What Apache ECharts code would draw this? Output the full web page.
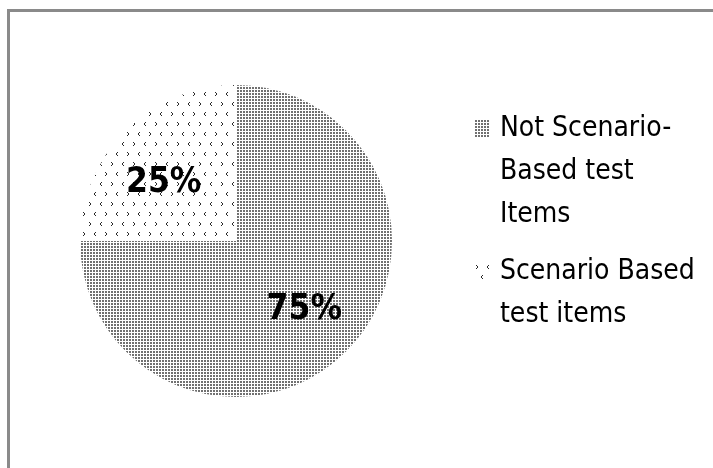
<!DOCTYPE html>
<html>
<head>
<meta charset="utf-8">
<script src="https://cdn.jsdelivr.net/npm/echarts@6/dist/echarts.min.js"></script>
<style>
html, body { margin: 0; padding: 0; background: #fff; }
#chart { width: 713px; height: 468px; }
</style>
</head>
<body>
<div id="chart"></div>
<script>
var categories = ['Not Scenario-Based test Items', 'Scenario Based test items'];
var values = [75, 25];
var legendLines = [
    ['Not Scenario-', 'Based test', 'Items'],
    ['Scenario Based', 'test items']
];

var FONT = '"DejaVu Sans Condensed", "Liberation Sans Narrow", "DejaVu Sans", sans-serif';

// small canvas tiles used as fill patterns (the original is a b/w pattern fill)
function tile(w, h, draw) {
    var c = document.createElement('canvas');
    c.width = w;
    c.height = h;
    var ctx = c.getContext('2d');
    ctx.fillStyle = '#fff';
    ctx.fillRect(0, 0, w, h);
    draw(ctx);
    return c;
}

var dotTile = tile(3, 3, function (ctx) {
    ctx.fillStyle = '#707070';
    ctx.fillRect(0, 0, 2, 2);
});

var chevronTile = tile(22, 20, function (ctx) {
    ctx.fillStyle = '#2a2a2a';
    function px(x, y) { ctx.fillRect(x, y, 1, 1); }
    function gt(x, y) { px(x, y); px(x + 1, y + 1); px(x + 1, y + 2); px(x, y + 3); }
    function lt(x, y) { px(x + 1, y); px(x, y + 1); px(x, y + 2); px(x + 1, y + 3); }
    gt(1, 2); lt(12, 2);
    lt(6, 12); gt(17, 12);
});

var fills = [
    { image: dotTile, repeat: 'repeat' },
    { image: chevronTile, repeat: 'repeat' }
];

var myChart = echarts.init(document.getElementById('chart'));

function legendText(name) {
    var lines = legendLines[categories.indexOf(name)];
    var pad = [];
    for (var i = 1; i < lines.length; i++) pad.push('');
    // blank lines in front keep the icon level with the first line
    return pad.concat(lines).join('\n');
}

function legendFor(i, top) {
    return {
        data: [categories[i]],
        orient: 'vertical',
        left: 475,
        top: top,
        padding: 0,
        itemWidth: 14,
        itemHeight: 18,
        icon: 'rect',
        selectedMode: false,
        formatter: legendText,
        textStyle: {
            fontFamily: FONT,
            fontSize: 28,
            lineHeight: 43,
            color: '#000',
            padding: [0, 0, 0, 6]
        }
    };
}

option = {
    animation: false,
    backgroundColor: '#fff',
    graphic: [{
        type: 'rect',
        shape: { x: 8.5, y: 10.5, width: 900, height: 700 },
        style: { fill: 'none', stroke: '#8a8a8a', lineWidth: 3 },
        silent: true
    }],
    legend: [legendFor(0, 21.5), legendFor(1, 207.5)],
    series: [{
        type: 'pie',
        center: [236, 241],
        radius: 156,
        startAngle: 90,
        clockwise: true,
        silent: true,
        emphasis: { disabled: true },
        itemStyle: { borderWidth: 0 },
        label: {
            position: 'inside',
            formatter: '{d}%',
            fontFamily: FONT,
            fontWeight: 'bold',
            fontSize: 35,
            color: '#000'
        },
        labelLine: { show: false },
        labelLayout: function (p) {
            return p.dataIndex === 0 ? { dx: 11, dy: 12 } : { dx: -15, dy: -1 };
        },
        data: categories.map(function (name, i) {
            return { name: name, value: values[i], itemStyle: { color: fills[i] } };
        })
    }]
};

myChart.setOption(option);
</script>
</body>
</html>
